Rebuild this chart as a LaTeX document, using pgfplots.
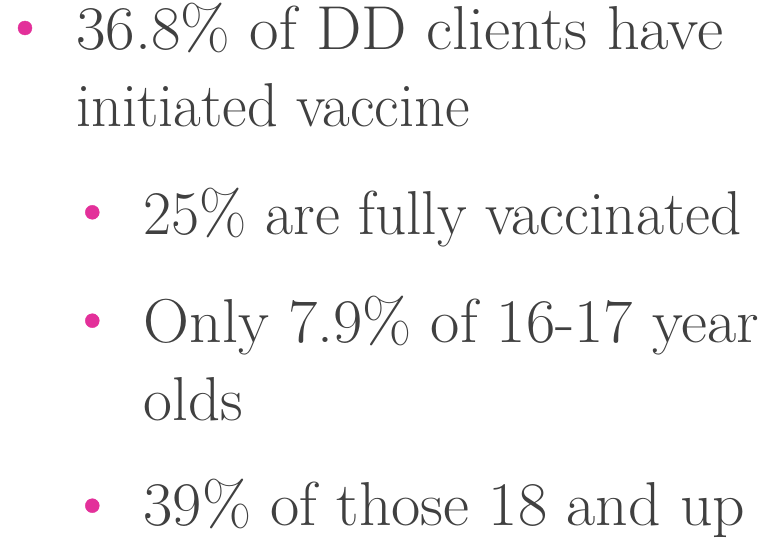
\documentclass[border=0pt]{standalone}
\usepackage{graphicx}
\usepackage{pgfplots}
\pgfplotsset{compat=1.18}
\definecolor{bulletpink}{HTML}{E3309A}
\definecolor{textgrey}{HTML}{404040}
\tikzset{txt/.style={anchor=base west, inner sep=0pt, text=textgrey, font=\fontsize{62}{64}\selectfont}}
\newcommand{\fitw}[2]{\resizebox{#1}{\height}{#2}}
\begin{document}
\begin{tikzpicture}
\begin{axis}[
  width=769pt, height=543pt, scale only axis,
  xmin=0, xmax=769, ymin=0, ymax=543,
  y dir=reverse,
  hide axis, clip=false,
]
\draw[draw=none] (rel axis cs:0,0) rectangle (rel axis cs:1,1);
\addplot[only marks, mark=*, mark size=7pt, color=bulletpink, mark options={draw=none}]
  coordinates {(25,28) (92.3,212.3) (92.3,320.7) (92.3,505.7)};
\node[txt] at (axis cs:76,50) {\fitw{647pt}{36.8\% of DD clients have}};
\node[txt] at (axis cs:76,126) {\fitw{393.3pt}{initiated vaccine}};
\node[txt] at (axis cs:143.5,234) {\fitw{598.2pt}{25\% are fully vaccinated}};
\node[txt] at (axis cs:143.5,342.5) {\fitw{615.5pt}{Only 7.9\% of 16-17 year}};
\node[txt] at (axis cs:143.5,420) {\fitw{99.2pt}{olds}};
\node[txt] at (axis cs:143.5,525) {\fitw{601.5pt}{39\% of those 18 and up}};
\end{axis}
\end{tikzpicture}
\end{document}
